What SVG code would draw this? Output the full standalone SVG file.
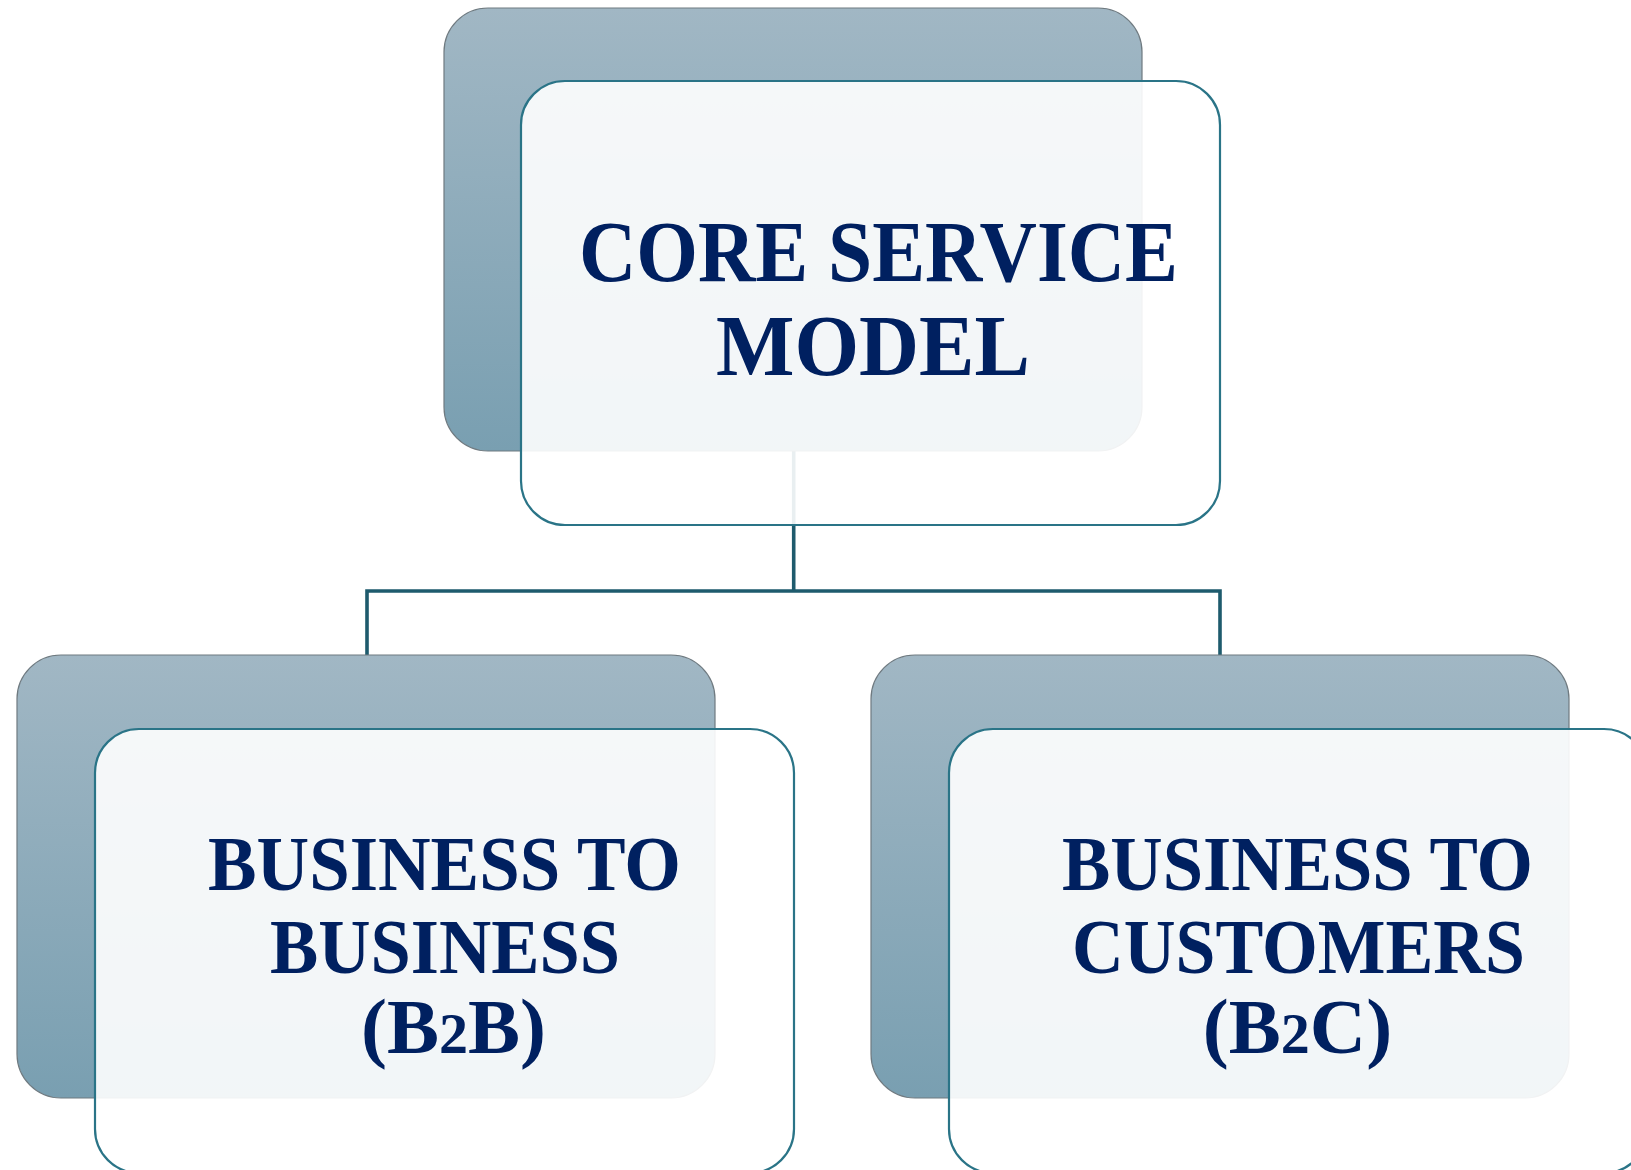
<svg xmlns="http://www.w3.org/2000/svg" width="1631" height="1170" viewBox="0 0 1631 1170">
<defs>
<linearGradient id="bg" x1="0" y1="0" x2="0" y2="1">
<stop offset="0" stop-color="#a1b7c4"/>
<stop offset="1" stop-color="#799fb1"/>
</linearGradient>
</defs>
<style>
.back{fill:url(#bg);stroke:#6f7a80;stroke-width:1.2}
.front{fill:#ffffff;fill-opacity:0.9;stroke:#2a7487;stroke-width:2.2}
.conn{fill:none;stroke:#1e5b6d;stroke-width:3.6}
.t{font-family:"Liberation Serif","Times New Roman",serif;font-weight:bold;fill:#002060;text-anchor:middle}
.big{font-size:87px}
.mid{font-size:78px}
</style>
<rect width="1631" height="1170" fill="#ffffff"/>
<g id="connectors">
<path class="conn" d="M793.7,451 V591 M367,591 H1220 M367,589.2 V655 M1220,589.2 V655"/>
</g>
<g id="node-core">
<rect class="back" x="444" y="8" width="698" height="443" rx="44" ry="44"/>
<rect class="front" x="521" y="81" width="699" height="444" rx="44" ry="44"/>
<text class="t big" x="878.5" y="281" textLength="599" lengthAdjust="spacingAndGlyphs">CORE SERVICE</text>
<text class="t big" x="873" y="374.5" textLength="314" lengthAdjust="spacingAndGlyphs">MODEL</text>
</g>
<g id="node-b2b">
<rect class="back" x="17" y="655" width="698" height="443" rx="44" ry="44"/>
<rect class="front" x="95" y="729" width="699" height="444" rx="44" ry="44"/>
<text class="t mid" x="444.5" y="890" textLength="473" lengthAdjust="spacingAndGlyphs">BUSINESS TO</text>
<text class="t mid" x="445" y="973" textLength="350" lengthAdjust="spacingAndGlyphs">BUSINESS</text>
<text class="t mid" x="453.5" y="1053">(B<tspan font-size="58">2</tspan>B)</text>
</g>
<g id="node-b2c">
<rect class="back" x="871" y="655" width="698" height="443" rx="44" ry="44"/>
<rect class="front" x="949" y="729" width="699" height="444" rx="44" ry="44"/>
<text class="t mid" x="1297.5" y="890" textLength="471" lengthAdjust="spacingAndGlyphs">BUSINESS TO</text>
<text class="t mid" x="1298.5" y="973" textLength="453" lengthAdjust="spacingAndGlyphs">CUSTOMERS</text>
<text class="t mid" x="1297.5" y="1053">(B<tspan font-size="58">2</tspan>C)</text>
</g>
</svg>
